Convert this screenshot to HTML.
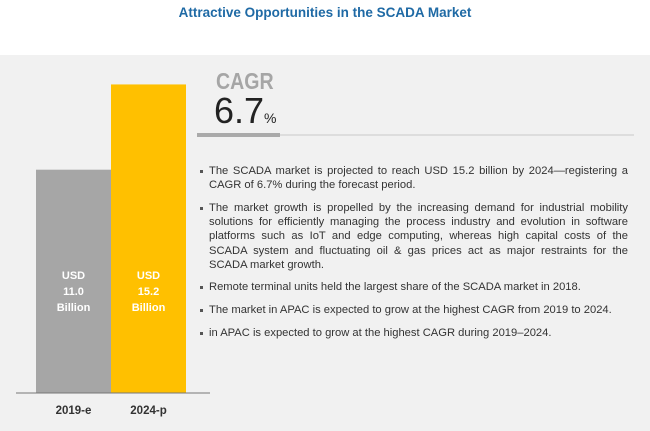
<!DOCTYPE html>
<html><head><meta charset="utf-8"><style>
body{margin:0;width:650px;height:431px;overflow:hidden;background:#fff;font-family:"Liberation Sans",Arial,sans-serif;position:relative}
#bg{position:absolute;left:0;top:55px;width:650px;height:376px;background:#f1f1f1}
#title{position:absolute;left:0;top:5px;width:650px;text-align:center;color:#1f6aa5;font-weight:bold;font-size:13.5px}
.abs{position:absolute}
ul{margin:0;padding:0;list-style:none}
li{position:relative;padding-left:9px;font-size:11.2px;line-height:14.2px;color:#333;text-align:justify;margin-bottom:8.5px;letter-spacing:0}
li:before{content:"";position:absolute;left:0;top:6px;width:3px;height:3px;background:#555}
</style></head><body>
<div id="bg"></div>
<div id="title">Attractive Opportunities in the SCADA Market</div>
<svg id="chart" class="abs" style="left:0;top:0" width="650" height="431"></svg>
<div class="abs" style="left:216px;top:68px;font-size:23px;color:#a6a6a6;font-weight:bold;transform:scaleX(0.85);transform-origin:left">CAGR</div>
<div class="abs" style="left:214px;top:90px;font-size:36px;color:#222">6.7<span style="font-size:14px">%</span></div>
<div class="abs" style="left:197px;top:134px;width:437px;height:2px;background:#ddd"></div>
<div class="abs" style="left:197px;top:133px;width:83px;height:4px;background:#aaa"></div>
<ul class="abs" style="left:200px;top:164px;width:428px">
<li>The SCADA market is projected to reach USD 15.2 billion by 2024—registering a CAGR of 6.7% during the forecast period.</li>
<li>The market growth is propelled by the increasing demand for industrial mobility solutions for efficiently managing the process industry and evolution in software platforms such as IoT and edge computing, whereas high capital costs of the SCADA system and fluctuating oil &amp; gas prices act as major restraints for the SCADA market growth.</li>
<li>Remote terminal units held the largest share of the SCADA market in 2018.</li>
<li>The market in APAC is expected to grow at the highest CAGR from 2019 to 2024.</li>
<li>in APAC is expected to grow at the highest CAGR during 2019–2024.</li>
</ul>
<script>
const categories=["2019-e","2024-p"];
const values=[11.0,15.2];
const valueLabels=["11.0","15.2"];
const NS="http://www.w3.org/2000/svg";
const svg=document.getElementById('chart');
const base=393,scale=20.3;
function y(v){return base-v*scale;}
function x(i){return 36+i*75;}
const fills=["#a6a6a6","#ffc000"];
categories.forEach((c,i)=>{
 const r=document.createElementNS(NS,'rect');
 r.setAttribute('x',x(i));r.setAttribute('y',y(values[i]));r.setAttribute('width',75);r.setAttribute('height',base-y(values[i]));r.setAttribute('fill',fills[i]);
 
 
 svg.appendChild(r);
 ["USD",valueLabels[i],"Billion"].forEach((t,k)=>{
  const tx=document.createElementNS(NS,'text');
  tx.setAttribute('x',x(i)+37.5);tx.setAttribute('y',279+k*16);tx.setAttribute('text-anchor','middle');
  tx.setAttribute('font-size','11');tx.setAttribute('font-weight','bold');tx.setAttribute('fill','#fff');
  tx.setAttribute('font-family','Liberation Sans, sans-serif');tx.textContent=t;
  
  
  svg.appendChild(tx);
 });
 const lb=document.createElementNS(NS,'text');
 lb.setAttribute('x',x(i)+37.5);lb.setAttribute('y',414);lb.setAttribute('text-anchor','middle');
 lb.setAttribute('font-size','11.5');lb.setAttribute('font-weight','bold');lb.setAttribute('fill','#333');
 lb.setAttribute('font-family','Liberation Sans, sans-serif');lb.textContent=c;
 
 
 svg.appendChild(lb);
});
const ax=document.createElementNS(NS,'line');
ax.setAttribute('x1',16);ax.setAttribute('x2',210);ax.setAttribute('y1',base);ax.setAttribute('y2',base);ax.setAttribute('stroke','#777');ax.setAttribute('stroke-width','1');


svg.appendChild(ax);
</script>
</body></html>
